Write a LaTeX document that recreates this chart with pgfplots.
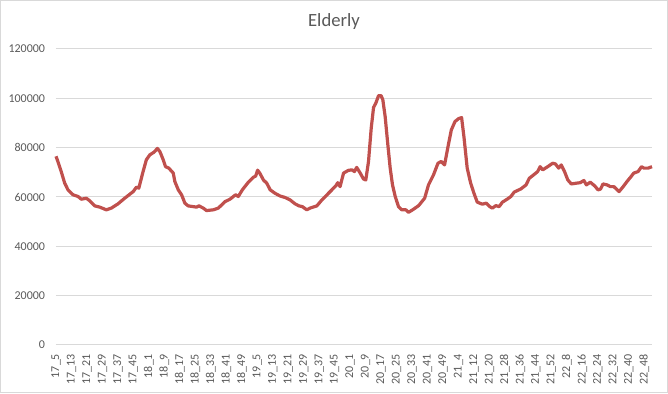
\documentclass[border=0pt]{standalone}
\usepackage{pgfplots}
\pgfplotsset{compat=1.18}
\usepackage{fontspec}
\setmainfont{Carlito}
\definecolor{linered}{HTML}{C0504D}
\definecolor{gridgray}{HTML}{D9D9D9}
\definecolor{txtgray}{HTML}{595959}
\newcommand{\us}{\textunderscore}
\begin{document}
\begin{tikzpicture}
\useasboundingbox (0,0) rectangle (501pt,294.75pt);
\draw[gridgray, line width=0.75pt] (0.375pt,0.375pt) rectangle (500.625pt,294.375pt);
\node[txtgray, font=\fontsize{14}{16}\selectfont] at (250.5pt,278.25pt) {Elderly};
\begin{axis}[
  at={(42pt,36pt)}, anchor=south west,
  width=447pt, height=222pt, scale only axis,
  xmin=0, xmax=308, ymin=0, ymax=120000,
  ytick={0,20000,40000,60000,80000,100000,120000},
  yticklabels={0,20000,40000,60000,80000,100000,120000},
  xtick={0,8,...,304},
  xticklabels={17\us 5,17\us 13,17\us 21,17\us 29,17\us 37,17\us 45,18\us 1,18\us 9,18\us 17,18\us 25,18\us 33,18\us 41,18\us 49,19\us 5,19\us 13,19\us 21,19\us 29,19\us 37,19\us 45,20\us 1,20\us 9,20\us 17,20\us 25,20\us 33,20\us 41,20\us 49,21\us 4,21\us 12,21\us 20,21\us 28,21\us 36,21\us 44,21\us 52,22\us 8,22\us 16,22\us 24,22\us 32,22\us 40,22\us 48},
  ymajorgrids, grid style={gridgray, line width=0.75pt},
  axis line style={draw=none},
  major tick length=0pt,
  tick label style={font=\fontsize{9}{10}\selectfont, text=txtgray},
  xticklabel style={rotate=90, anchor=east, inner sep=0pt, xshift=-6.5pt},
  yticklabel style={anchor=east, inner sep=0pt, xshift=-8pt},
  scaled y ticks=false,
  clip=false,
]
\addplot[linered, line width=2.4pt, line join=round, mark=none] table {
x y
0 76500
0.7 75000
2.7 70300
4.5 65600
6.2 62900
8.8 60900
11.4 60200
13.1 59100
15.7 59500
17.4 58500
20 56400
22.6 55900
26 54800
28.6 55500
32 57200
35.5 59500
39.9 62200
41.6 64000
42.8 63600
45 70300
46.7 75100
48.5 77100
50.7 78200
52.4 79700
53.7 78400
55.4 75100
56.6 72300
58.3 71700
60.6 69700
61.4 66300
63.2 62900
64.9 60900
66.6 57500
68.3 56400
70.9 56100
72.6 55900
73.9 56400
76.1 55500
77.8 54500
81.3 54800
83.9 55500
87.3 58100
89.9 59100
92.8 60900
94.2 60200
96.3 62900
99.4 66000
102 68000
103.2 68500
104.2 70900
105.5 69400
107.2 66900
108.9 65600
110.7 62900
113.2 61500
115.8 60400
118.4 59800
121 58800
123.6 57200
125.6 56400
127.3 56100
129.6 54800
131.3 55500
134.8 56400
137.4 58800
140.8 61500
144.6 64500
145.6 65800
146.8 64200
148.6 69700
151.1 70800
153 71000
154.2 70300
155.4 72000
157.2 69700
158.9 67300
160.1 66900
161.5 74400
162.9 87900
164.1 96300
165.3 98100
166.7 101100
168 101100
168.9 99400
170.1 92600
171.5 81100
172.7 71700
173.9 64900
175.3 60200
177 56100
178.7 54800
180.8 54800
182.2 53800
184.3 54800
187.4 56500
190.5 59500
192.5 64900
195.1 69000
197.4 73700
199.1 74400
200.8 73000
202.6 80500
204.3 87200
206.2 90600
208.1 91800
209.6 92200
210.8 84500
212.5 71700
214.3 65600
216 61500
217.7 57900
220.3 57100
222.4 57500
224.1 56100
225.5 55500
227.3 56500
229 56100
230.7 57900
233.3 59200
235.1 60200
236.8 62000
240.3 63300
242.9 64900
244.6 67600
247.2 69200
248.9 70300
250.2 72300
251.5 71000
254.1 72300
256.7 73700
258.1 73400
259.8 71700
261.1 73000
262.8 70300
264.5 66900
266.3 65300
268.9 65600
270.9 65800
272.8 66700
274.1 64900
276.1 66000
278.4 64500
280.1 62900
281.4 63200
282.7 65300
284.8 64900
286.5 64200
288.3 64200
289.6 63200
291 62200
293.1 64200
295.1 66300
296.9 68000
298.6 69700
300.8 70300
302.6 72300
303.8 71700
306 71700
308 72300
};
\end{axis}
\end{tikzpicture}
\end{document}
